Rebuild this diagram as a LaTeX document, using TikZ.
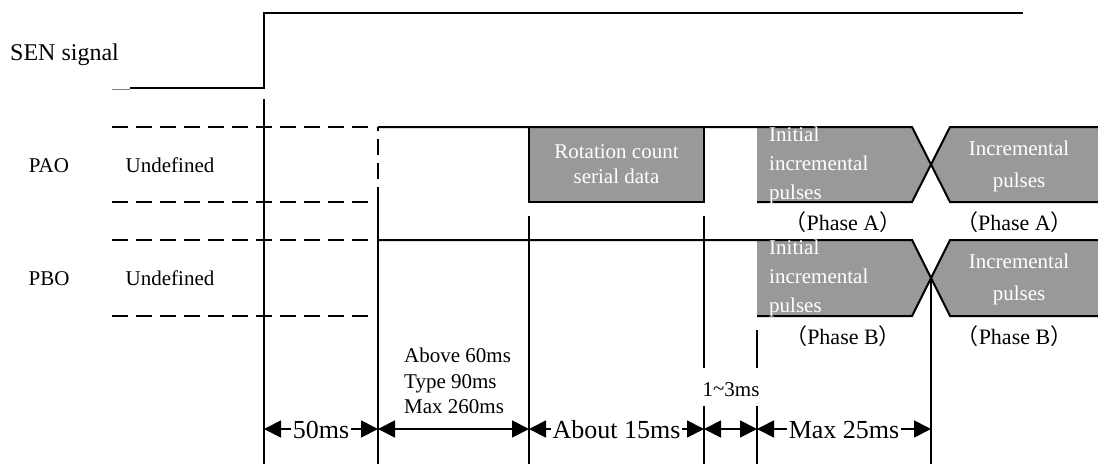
\documentclass[tikz,border=0pt]{standalone}
\usepackage{fontspec}
\setmainfont{Liberation Serif}
\newfontfamily\cjk{Noto Sans CJK SC}
\usetikzlibrary{arrows.meta, positioning, calc}
\newcommand{\fullparen}[1]{{\cjk （}#1{\cjk ）}}

\begin{document}
\begin{tikzpicture}[x=1pt,y=-1pt,
    line_wave/.style={line width=2pt},
    dash_wave/.style={line width=2pt, dash pattern=on 16pt off 8pt},
    tick_line/.style={line width=1.8pt},
    data_fill/.style={fill=black!40},
    dim_arrow/.style={line width=1.8pt, {Triangle[length=17pt,width=17pt]}-{Triangle[length=17pt,width=17pt]}},
    plain_text/.style={font=\fontsize{21}{25}\selectfont, anchor=mid, inner sep=0pt},
    phase_text/.style={font=\fontsize{22}{26}\selectfont, anchor=mid, inner sep=0pt},
    data_text/.style={plain_text, text=white, align=center},
    dim_text/.style={font=\fontsize{26}{30}\selectfont, fill=white, inner sep=1.5pt},
    ]
    \useasboundingbox (0,0) rectangle (1098,464);

    % Data fields
    \fill[data_fill] (529,127) rectangle (704,202);
    \fill[data_fill] (757,127) -- (912,127) -- (931,164.5) -- (912,202) -- (757,202) -- cycle;
    \fill[data_fill] (1098,127) -- (950,127) -- (931,164.5) -- (950,202) -- (1098,202) -- cycle;
    \fill[data_fill] (757,240) -- (912,240) -- (931,278) -- (912,316) -- (757,316) -- cycle;
    \fill[data_fill] (1098,240) -- (950,240) -- (931,278) -- (950,316) -- (1098,316) -- cycle;

    % SEN waveform
    \draw[black!50, line width=0.7pt] (112,89) -- (130,89);
    \draw[line_wave] (130,88) -- (264,88) -- (264,13) -- (1023,13);

    % Undefined levels
    \draw[dash_wave] (112,127) -- (369,127);
    \draw[dash_wave] (112,202) -- (369,202);
    \draw[dash_wave] (112,240) -- (369,240);
    \draw[dash_wave] (112,316) -- (369,316);
    \draw[dash_wave, dash phase=12pt] (378,127) -- (378,187);

    % PAO and PBO waveforms
    \draw[line_wave] (378,127) -- (912,127) -- (950,202) -- (1098,202);
    \draw[line_wave] (757,202) -- (912,202) -- (950,127) -- (1098,127);
    \draw[line_wave] (529,127) rectangle (704,202);
    \draw[line_wave] (378,240) -- (912,240) -- (950,316) -- (1098,316);
    \draw[line_wave] (757,316) -- (912,316) -- (950,240) -- (1098,240);

    % Nodes
    \node[plain_text, font=\fontsize{24}{28}\selectfont, anchor=mid west] (sen) at (10,58) {SEN signal};
    \node[plain_text] (pao) at (49,170) {PAO};
    \node[plain_text] (pbo) at (49,283) {PBO};
    \node[plain_text] (undef_a) at (170,170) {Undefined};
    \node[plain_text] (undef_b) at (170,283) {Undefined};

    \node[data_text] (rotation) at (616.5,181) {Rotation count\\serial data};
    \node[data_text, align=left, anchor=north west, font=\fontsize{21}{29}\selectfont] (initial_a) at (769,127) {Initial\\incremental\\pulses};
    \node[data_text, align=left, anchor=north west, font=\fontsize{21}{29}\selectfont] (initial_b) at (769,240) {Initial\\incremental\\pulses};
    \node[data_text, font=\fontsize{21}{32}\selectfont] (incr_a) at (1019,185) {Incremental\\pulses};
    \node[data_text, font=\fontsize{21}{32}\selectfont] (incr_b) at (1019,298) {Incremental\\pulses};

    \node[phase_text] (phase_a1) at (843,228) {\fullparen{Phase A}};
    \node[phase_text] (phase_a2) at (1014.5,228) {\fullparen{Phase A}};
    \node[phase_text] (phase_b1) at (843,342) {\fullparen{Phase B}};
    \node[phase_text] (phase_b2) at (1014.5,342) {\fullparen{Phase B}};

    \node[plain_text, align=left, anchor=north west, font=\fontsize{21}{25.5}\selectfont] (timing) at (404,348) {Above 60ms\\Type 90ms\\Max 260ms};
    \node[plain_text] (gap_label) at (731,394) {1\raisebox{1pt}{\textasciitilde}3ms};

    % Time marks
    \foreach \mark/\xpos in {a/264, b/378, c/529, d/704, e/757, f/931} {
        \coordinate (dim_\mark) at (\xpos,429);
        \coordinate (low_\mark) at (\xpos,464);
    }
    \draw[tick_line] (264,99) -- (low_a);
    \draw[tick_line] (378,187) -- (low_b);
    \draw[tick_line] (529,216) -- (low_c);
    \draw[tick_line] (704,216) -- (704,368);
    \draw[tick_line] (704,406) -- (low_d);
    \draw[tick_line] (757,330) -- (757,368);
    \draw[tick_line] (757,406) -- (low_e);
    \draw[tick_line] (931,278) -- (low_f);

    % Arrows
    \draw[dim_arrow] (dim_a) -- node[dim_text, yshift=-1pt] (dim_50) {50ms} (dim_b);
    \draw[dim_arrow] (dim_b) -- (dim_c);
    \draw[dim_arrow] (dim_c) -- node[dim_text, yshift=-1pt] (dim_15) {About 15ms} (dim_d);
    \draw[dim_arrow] (dim_d) -- (dim_e);
    \draw[dim_arrow] (dim_e) -- node[dim_text, yshift=-1pt] (dim_25) {Max 25ms} (dim_f);
\end{tikzpicture}
\end{document}
